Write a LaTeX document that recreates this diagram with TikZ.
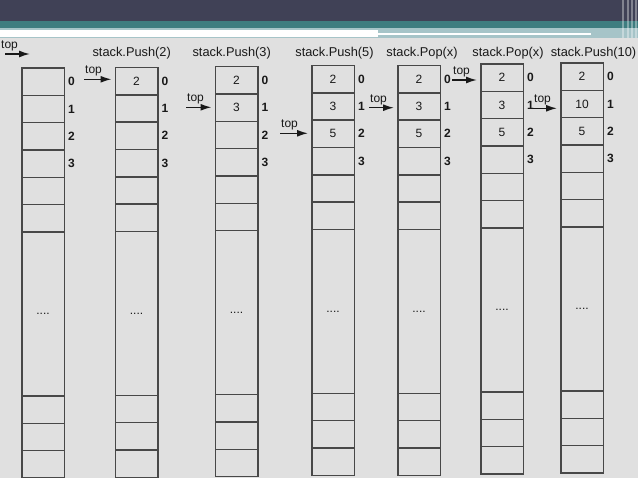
\documentclass[tikz,border=0pt]{standalone}
\usepackage{fontspec}
\setmainfont{Liberation Sans}
\usetikzlibrary{positioning,arrows.meta}
\definecolor{slidedark}{RGB}{64,65,86}
\definecolor{slideteal}{RGB}{62,125,128}
\definecolor{slidepale}{RGB}{166,196,200}
\definecolor{slidebg}{RGB}{224,224,224}
\definecolor{cellline}{RGB}{72,72,72}
\begin{document}
\begin{tikzpicture}[x=1pt, y=-1pt,
    every node/.style={font=\fontsize{12}{14}\selectfont, text=black!90},
    cell/.style={rectangle, draw=cellline, line width=1.5pt, anchor=north west, minimum width=42.5pt, minimum height=27.33pt, inner sep=0pt},
    idx/.style={inner sep=0pt, font=\fontsize{12}{14}\selectfont\bfseries},
    val/.style={inner sep=0pt},
    title/.style={inner sep=0pt, font=\fontsize{12.8}{15}\selectfont},
    toplbl/.style={inner sep=0pt},
    ptr/.style={-{Latex[length=11pt,width=7pt]}, line width=1.5pt, shorten >=3pt, draw=black!90}]
    \useasboundingbox (0,0) rectangle (638,478);
    % slide background and header bands
    \fill[slidebg] (0,0) rectangle (638,478);
    \fill[slidedark] (0,0) rectangle (638,21);
    \fill[slideteal] (0,21) rectangle (638,28);
    \fill[slidepale] (0,28) rectangle (638,38);
    \fill[white] (0,30) rectangle (378,37);
    \fill[white] (378,33.3) rectangle (591,35.3);
    \foreach \xx in {622,627,631,635}
        \fill[white, opacity=0.35] (\xx,0) rectangle ++(1.5,38);
    % the seven stacks
    \foreach \s/\x/\y in {1/21/67.3, 2/114.5/66.7, 3/214.5/66, 4/311/64.7, 5/397/64.7, 6/480/63.3, 7/560/62.3} {
        % six cells on top
        \foreach \k in {0,...,5}
            \node[cell] (s\s-\k) at (\x, \y+\k*27.33) {};
        % long cell in the middle
        \node[cell, minimum height=163.98pt] (s\s-m) at (\x, \y+163.98) {....};
        % three cells at the bottom
        \foreach \k in {12,13,14}
            \node[cell] (s\s-\k) at (\x, \y+\k*27.33) {};
        % index numbers
        \foreach \k in {0,...,3}
            \node[idx, right=3pt of s\s-\k] (i\s-\k) {\k};
    }
    % operations
    \node[title] (h2) at (131.7,53) {stack.Push(2)};
    \node[title] (h3) at (231.7,53) {stack.Push(3)};
    \node[title] (h4) at (334.5,53) {stack.Push(5)};
    \node[title] (h5) at (422,53) {stack.Pop(x)};
    \node[title] (h6) at (508,53) {stack.Pop(x)};
    \node[title] (h7) at (593.5,53) {stack.Push(10)};
    % stored values
    \foreach \s/\k/\v in {2/0/2, 3/0/2, 3/1/3, 4/0/2, 4/1/3, 4/2/5, 5/0/2, 5/1/3, 5/2/5,
                          6/0/2, 6/1/3, 6/2/5, 7/0/2, 7/1/10, 7/2/5}
        \node[val] (v\s-\k) at (s\s-\k) {\v};
    % top pointers
    \coordinate (t1) at (5,54);
    \coordinate (t1e) at (33,54);
    \draw[ptr] (t1) -- (t1e);
    \node[toplbl, above right=3pt and -4pt of t1] (l1) {top};
    \foreach \s/\k/\x/\y in {2/0/84/79.3, 3/1/186/107.3, 4/2/280/133.3, 5/1/369/107.7, 6/0/452/80, 7/1/533/108.3} {
        \coordinate (t\s) at (\x,\y);
        \draw[ptr] (t\s) -- (t\s -| s\s-\k.west);
        \node[toplbl, above right=3pt and 1pt of t\s] (l\s) {top};
    }
\end{tikzpicture}
\end{document}
